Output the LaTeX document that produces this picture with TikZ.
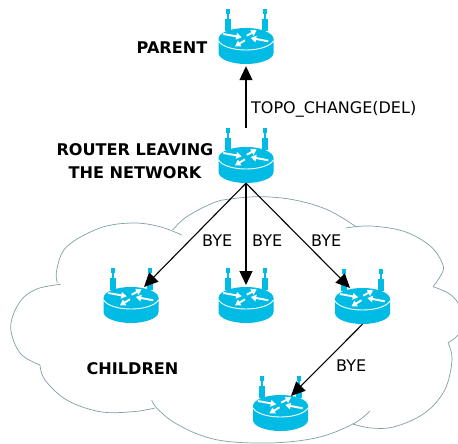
\documentclass[tikz,border=0pt]{standalone}
\usepackage{fontspec}
\setmainfont{DejaVu Sans}
\usetikzlibrary{arrows.meta}
\definecolor{routercyan}{HTML}{00BCE4}
\definecolor{cloudline}{HTML}{7F9FA3}
\tikzset{
  cloudarc/.style={draw=cloudline,line width=0.7pt},
  link/.style={draw=black,line width=1.1pt,-{Triangle[length=14pt,width=13pt]}},
  caption/.style={font=\fontsize{16}{19}\selectfont,inner sep=0pt,anchor=west},
  heading/.style={font=\fontsize{16.1}{23}\selectfont\bfseries,inner sep=0pt,align=center},
  rarrow/.style={draw=white,line width=1.9pt,-{Triangle[length=5.5pt,width=6.5pt]}},
  router/.pic={
    \foreach \s in {-1,1}{
      \fill[routercyan] (\s*18.5-3,-9) rectangle (\s*18.5+3,3);
      \fill[routercyan] (\s*18.5-1,-14) rectangle (\s*18.5+1,-9);
      \fill[routercyan] (\s*18.5-2,-19) rectangle (\s*18.5+2,-14);
    }
    \fill[routercyan] (-27.5,11) .. controls (-27.5,4.9) and (-15.2,0) .. (0,0) .. controls (15.2,0) and (27.5,4.9) .. (27.5,11) -- (27.5,25) .. controls (27.5,31) and (15.2,36) .. (0,36) .. controls (-15.2,36) and (-27.5,31) .. (-27.5,25) -- cycle;
    \draw[white,line width=0.9pt] (-27.5,13) .. controls (-20,25) and (20,25) .. (27.5,13);
    \draw[rarrow] (-22.7,6) -- (-4.3,9.3);
    \draw[rarrow] (0.7,7.7) -- (10.7,2.3);
    \draw[rarrow] (-1,12.3) -- (-11,18.3);
    \draw[rarrow] (22.3,13.3) -- (4.7,10);
    \node[inner sep=0pt,minimum width=55pt,minimum height=55pt] (-box) at (0,8.5) {};
    \coordinate (-top) at (0,0);
  }
}
\begin{document}
\begin{tikzpicture}[x=1pt,y=-1pt]
\useasboundingbox (0,0) rectangle (458,444);
\begin{scope}
\clip (0,0) rectangle (458,444);
\draw[cloudarc] plot[smooth,tension=0.6] coordinates {(57.3,282.7) (56.7,270) (66.7,246.7) (100,228) (133,223) (160,226.7) (181.7,235)};
\draw[cloudarc] plot[smooth,tension=0.6] coordinates {(172.7,230) (186.7,216.7) (213,203) (230,199) (261,196.7) (294.7,200) (328,210) (356,226.7)};
\draw[cloudarc] plot[smooth,tension=0.6] coordinates {(346,228) (371,226) (405,231.7) (431,246.7) (443,265) (441,275) (433,286.7)};
\draw[cloudarc] plot[smooth,tension=0.6] coordinates {(433,286.7) (448,293) (458,303) (463,320) (458,335) (448,342.7)};
\draw[cloudarc] plot[smooth,tension=0.6] coordinates {(448,342.7) (452,360) (444.7,390) (424.7,413) (394.7,426.7) (371,428) (353,424)};
\draw[cloudarc] plot[smooth,tension=0.6] coordinates {(369.7,411) (354.7,423) (321,436.7) (278,442.7) (230,441.7) (200,435) (173,421.7) (156.7,408) (151.7,400)};
\draw[cloudarc] plot[smooth,tension=0.6] coordinates {(155,408) (133,411.7) (100,411.7) (66.7,400) (45,380) (40,365)};
\draw[cloudarc] plot[smooth,tension=0.6] coordinates {(40,365) (20,353) (10.7,326.7) (20,301.7) (36.7,289) (60.7,284.3)};
\end{scope}
\pic (parent) at (246,28) {router};
\pic (leaving) at (246,147) {router};
\pic (childa) at (131,287) {router};
\pic (childb) at (246,287) {router};
\pic (childc) at (362.5,288) {router};
\pic (childd) at (280.5,395) {router};
\draw[link] (leaving-box.north) -- ([yshift=-2pt]parent-box.south);
\draw[link] (leaving-box.south) -- ([xshift=13pt]childa-top);
\draw[link] (leaving-box.south) -- ([yshift=2pt]childb-top);
\draw[link] (leaving-box.south) -- ([xshift=-12.5pt]childc-top);
\draw[link] (childc-box.south) -- ([xshift=10.5pt,yshift=-1pt]childd-top);
\node[heading,anchor=east] (parentlabel) at (207.5,48) {PARENT};
\node[heading] (leavinglabel) at (135,161) {ROUTER LEAVING\\THE NETWORK};
\node[heading] (childrenlabel) at (132.5,368.5) {CHILDREN};
\node[caption] (topo) at (251,109) {TOPO\_CHANGE(DEL)};
\node[caption] (byea) at (202,241) {BYE};
\node[caption] (byeb) at (252,241) {BYE};
\node[caption] (byec) at (311,241) {BYE};
\node[caption] (byed) at (336,366) {BYE};
\end{tikzpicture}
\end{document}
